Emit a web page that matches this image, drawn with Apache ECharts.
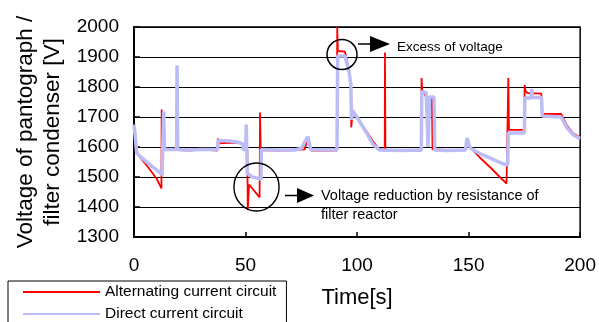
<!DOCTYPE html>
<html>
<head>
<meta charset="utf-8">
<script src="https://cdn.jsdelivr.net/npm/echarts@6/dist/echarts.min.js"></script>
<style>
html, body { margin: 0; padding: 0; background: #fff; }
#chart { width: 599px; height: 322px; }
</style>
</head>
<body>
<div id="chart"></div>
<script>
// values: time [s] and voltage [V]
var acTime = [0, 0.5, 1.2, 2.7, 5, 7.1, 10.1, 12.3, 12.4, 12.8, 13.2, 20, 25, 30, 37.4, 37.6, 38.2, 43, 48.5, 49,
  50.8, 51, 51.6, 56.3, 56.5, 56.8, 65, 72, 76.5, 78, 79.5, 91, 91.1, 91.4, 94.5, 95.3, 96.5, 97.2, 97.4, 98,
  100, 104, 107, 109.8, 112.4, 112.5, 112.7, 120, 128.8, 128.9, 129.2, 131.5, 131.7, 132.3, 132.4, 133.6, 133.8, 140, 148.5, 149.3,
  150.5, 151.5, 155, 160, 164, 167, 167.4, 167.8, 168.1, 175, 175.1, 175.6, 176.5, 182.6, 183, 191.5, 194, 197, 200];
var acVolt = [1660, 1620, 1585, 1565, 1545, 1525, 1495, 1462, 1725, 1600, 1590, 1590, 1588, 1592, 1588, 1628, 1612, 1615, 1612, 1590,
  1590, 1390, 1475, 1432, 1715, 1590, 1588, 1590, 1592, 1632, 1588, 1588, 2000, 1920, 1918, 1895, 1845, 1800, 1665, 1715,
  1695, 1655, 1620, 1593, 1590, 1915, 1588, 1588, 1588, 1830, 1790, 1760, 1600, 1600, 1760, 1760, 1592, 1590, 1590, 1628,
  1598, 1593, 1565, 1530, 1500, 1478, 1472, 1830, 1657, 1657, 1807, 1785, 1780, 1778, 1710, 1710, 1672, 1645, 1632];

var dcTime = [0, 0.5, 1.2, 3, 6, 9, 12.6, 13.2, 13.3, 13.7, 19.1, 19.3, 19.6, 25, 30, 37.5, 37.8, 43, 47, 48.8,
  49, 50.1, 50.3, 50.8, 53, 56.9, 57.1, 65, 72, 75, 77.9, 79.2, 91, 91.3, 94.6, 96.4, 97.2, 97.5, 97.8, 100,
  104, 107, 110, 120, 128.8, 129, 131, 131.6, 131.8, 132.3, 132.5, 134.5, 134.8, 140, 148.6, 149.3, 150.3, 151, 155, 160,
  165, 167.5, 167.8, 175, 175.2, 178, 178.3, 178.6, 182.7, 183, 191.5, 194, 197, 200];
var dcVolt = [1675, 1640, 1580, 1567, 1548, 1530, 1508, 1505, 1718, 1592, 1592, 1872, 1592, 1590, 1592, 1592, 1622, 1620, 1615, 1610,
  1590, 1595, 1675, 1512, 1500, 1493, 1592, 1590, 1590, 1595, 1635, 1592, 1590, 1903, 1903, 1850, 1810, 1690, 1722, 1700,
  1650, 1610, 1590, 1588, 1590, 1785, 1780, 1775, 1600, 1600, 1767, 1767, 1590, 1588, 1590, 1630, 1605, 1595, 1578, 1562,
  1545, 1540, 1647, 1647, 1763, 1763, 1793, 1765, 1765, 1703, 1700, 1665, 1640, 1628];

var seriesNames = ['Alternating current circuit', 'Direct current circuit'];

function pairs(ts, vs) {
  var out = [];
  for (var i = 0; i < ts.length; i++) {
    out.push([ts[i], vs[i]]);
  }
  return out;
}

var font = 'Liberation Sans, Arial, sans-serif';
var chart = echarts.init(document.getElementById('chart'));

var option = {
  animation: false,
  backgroundColor: '#fff',
  textStyle: { fontFamily: font },
  grid: {
    left: 134, right: 17, top: 27, bottom: 85,
    show: true, borderColor: '#000', borderWidth: 1.5
  },
  legend: {
    left: 8, top: 281,
    height: 80,
    orient: 'vertical',
    itemGap: 4,
    itemWidth: 77,
    itemHeight: 18,
    padding: [2, 10, 30, 14],
    borderColor: '#000',
    borderWidth: 1,
    backgroundColor: '#fff',
    itemStyle: { opacity: 0 },
    textStyle: { fontSize: 15.5, lineHeight: 18, color: '#000', fontFamily: font },
    data: seriesNames
  },
  xAxis: {
    type: 'value',
    min: 0, max: 200, interval: 50,
    name: 'Time[s]',
    nameLocation: 'middle',
    nameGap: 50,
    nameTextStyle: { fontSize: 22, color: '#000', fontFamily: font },
    axisLine: { lineStyle: { color: '#000', width: 2 } },
    axisTick: { inside: true, length: 5, lineStyle: { color: '#000', width: 1.5 } },
    axisLabel: { fontSize: 19, color: '#000', margin: 19, fontFamily: font },
    splitLine: { show: false }
  },
  yAxis: {
    type: 'value',
    min: 1300, max: 2000, interval: 100,
    name: 'Voltage of pantograph /\nfilter condenser [V]',
    nameLocation: 'middle',
    nameGap: 57,
    nameTextStyle: { fontSize: 22.5, color: '#000', lineHeight: 27, fontFamily: font },
    axisLine: { show: true, lineStyle: { color: '#000', width: 2 } },
    axisTick: { show: true, inside: true, length: 6, lineStyle: { color: '#000', width: 1.5 } },
    axisLabel: {
      fontSize: 19, color: '#000', margin: 15, fontFamily: font,
      formatter: function (v) { return String(v); }
    },
    splitLine: { show: true, lineStyle: { color: '#000', width: 1 } }
  },
  series: [
    {
      name: seriesNames[0],
      type: 'line',
      symbol: 'none',
      lineStyle: { color: '#ff0000', width: 1.8 },
      itemStyle: { color: '#ff0000' },
      data: pairs(acTime, acVolt)
    },
    {
      name: seriesNames[1],
      type: 'line',
      symbol: 'none',
      lineStyle: { color: '#bcbcf6', width: 3.5 },
      itemStyle: { color: '#bcbcf6' },
      data: pairs(dcTime, dcVolt)
    }
  ],
  graphic: [
    // "Excess of voltage" note
    { type: 'circle', shape: { cx: 342, cy: 54.5, r: 15 }, style: { fill: 'none', stroke: '#000', lineWidth: 1.5 }, z: 100 },
    { type: 'line', shape: { x1: 358, y1: 44, x2: 374, y2: 44 }, style: { stroke: '#000', lineWidth: 1.5 }, z: 100 },
    { type: 'polygon', shape: { points: [[370, 36], [390, 44], [370, 52]] }, style: { fill: '#000' }, z: 100 },
    { type: 'text', left: 397, top: 40, style: { text: 'Excess of voltage', fontSize: 13.5, fill: '#000', fontFamily: font }, z: 100 },
    // "Voltage reduction" note
    { type: 'circle', shape: { cx: 256.5, cy: 187, r: 24 }, scaleX: 0.94, originX: 256.5, originY: 187, style: { fill: 'none', stroke: '#000', lineWidth: 1.5 }, z: 100 },
    { type: 'line', shape: { x1: 285, y1: 195.5, x2: 300, y2: 195.5 }, style: { stroke: '#000', lineWidth: 1.5 }, z: 100 },
    { type: 'polygon', shape: { points: [[297, 188], [314, 195.5], [297, 203]] }, style: { fill: '#000' }, z: 100 },
    { type: 'text', left: 321, top: 186, style: { text: 'Voltage reduction by resistance of\nfilter reactor', fontSize: 14.5, lineHeight: 19, fill: '#000', fontFamily: font }, z: 100 }
  ]
};

chart.setOption(option);
</script>
</body>
</html>
